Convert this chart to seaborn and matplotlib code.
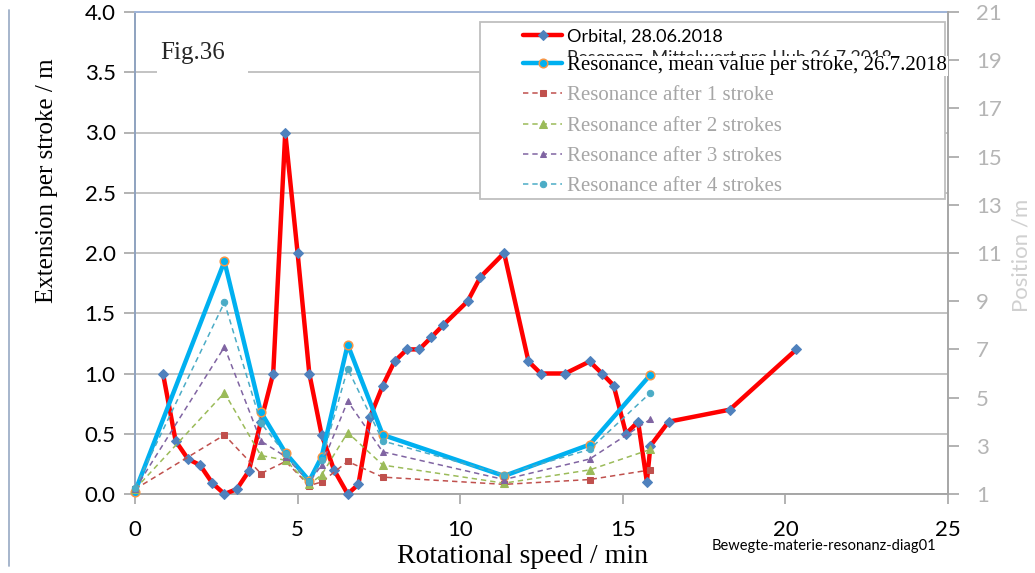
import numpy as np
import pandas as pd
import matplotlib
matplotlib.use("Agg")
import matplotlib.pyplot as plt
import seaborn as sns
from matplotlib.lines import Line2D
from matplotlib.patches import Rectangle

# ---------------- data ----------------
orbital_speed = [0.86, 1.25, 1.63, 2.0, 2.38, 2.75, 3.13, 3.5, 3.87, 4.25, 4.62, 5.0, 5.36,
                 5.74, 6.12, 6.54, 6.87, 7.23, 7.62, 7.98, 8.36, 8.74, 9.11, 9.47, 10.23,
                 10.62, 11.35, 12.1, 12.48, 13.23, 13.98, 14.36, 14.72, 15.1, 15.47, 15.74,
                 15.85, 16.41, 18.29, 20.34]
orbital_ext = [1.0, 0.44, 0.29, 0.24, 0.09, 0.0, 0.04, 0.19, 0.6, 1.0, 3.0, 2.0, 1.0,
               0.49, 0.2, 0.0, 0.08, 0.64, 0.9, 1.1, 1.2, 1.2, 1.3, 1.4, 1.6,
               1.8, 2.0, 1.1, 1.0, 1.0, 1.1, 1.0, 0.9, 0.5, 0.6, 0.1,
               0.4, 0.6, 0.7, 1.2]
res_speed = [0, 2.75, 3.87, 4.63, 5.36, 5.74, 6.54, 7.62, 11.35, 13.98, 15.85]
res_mean = [0.02, 1.93, 0.68, 0.34, 0.11, 0.31, 1.24, 0.49, 0.15, 0.41, 0.99]
res_1 = [0.04, 0.49, 0.17, 0.27, 0.07, 0.10, 0.27, 0.14, 0.08, 0.12, 0.20]
res_2 = [0.04, 0.84, 0.32, 0.28, 0.08, 0.16, 0.51, 0.24, 0.09, 0.20, 0.37]
res_3 = [0.04, 1.22, 0.44, 0.31, 0.10, 0.24, 0.77, 0.35, 0.12, 0.29, 0.62]
res_4 = [0.05, 1.59, 0.59, 0.33, 0.10, 0.28, 1.04, 0.44, 0.16, 0.37, 0.84]

labels = ["Orbital, 28.06.2018",
          "Resonance, mean value per stroke, 26.7.2018",
          "Resonance after 1 stroke",
          "Resonance after 2 strokes",
          "Resonance after 3 strokes",
          "Resonance after 4 strokes"]
x_ticks = [0, 5, 10, 15, 20, 25]
y_ticks = [0.0, 0.5, 1.0, 1.5, 2.0, 2.5, 3.0, 3.5, 4.0]
pos_ticks = [1, 3, 5, 7, 9, 11, 13, 15, 17, 19, 21]

# ---------------- style ----------------
sns.set_theme(style="white")
plt.rcParams['font.family'] = ['Lato', 'DejaVu Sans']
SERIF = ['Liberation Serif', 'DejaVu Serif']
GRAYTXT = '#a6a6a6'

W, H = 1035, 573
fig = plt.figure(figsize=(W / 100, H / 100), dpi=100)
fig.patch.set_facecolor('white')
ax = fig.add_axes([135 / W, 1 - 494 / H, (948 - 135) / W, (494 - 12) / H])
ax.set_facecolor('white')

# ---------------- series ----------------
sns.lineplot(x=orbital_speed, y=orbital_ext, ax=ax, sort=False, legend=False,
             color='#ff0000', linewidth=3.2, marker='D', markersize=5.0,
             markerfacecolor='#4f81bd', markeredgecolor='#4f81bd', zorder=3, clip_on=False)
sns.lineplot(x=res_speed, y=res_mean, ax=ax, sort=False, legend=False,
             color='#00b0f0', linewidth=3.2, marker='o', markersize=6.2,
             markerfacecolor='#00b0f0', markeredgecolor='#f79646', markeredgewidth=1.1,
             zorder=4, clip_on=False)
dashed = [(res_1, '#c0504d', 's', 4.6),
          (res_2, '#9bbb59', '^', 6.0),
          (res_3, '#8064a2', '^', 5.0),
          (res_4, '#4bacc6', 'o', 4.6)]
for vals, col, mk, ms in dashed:
    sns.lineplot(x=res_speed, y=vals, ax=ax, sort=False, legend=False,
                 color=col, linewidth=1.1, marker=mk, markersize=ms,
                 markerfacecolor=col, markeredgecolor=col, zorder=5, clip_on=False)
lines = list(ax.get_lines())
for ln in lines[2:]:
    ln.set_linestyle((0, (3.5, 2.6)))

# ---------------- axes ----------------
ax.set_xlim(0, 25)
ax.set_ylim(0, 4)
ax.set_xticks(x_ticks)
ax.set_xticklabels([str(v) for v in x_ticks])
ax.set_yticks(y_ticks)
ax.set_yticklabels([f"{v:.1f}" for v in y_ticks])
ax.set_axisbelow(True)
ax.yaxis.grid(True, color='#c3c3c3', linewidth=1.4)
ax.xaxis.grid(False)
ax.tick_params(axis='x', bottom=True, direction='out', length=7, width=1.2,
               color='#a6a6a6', pad=12, labelsize=16, labelcolor='black')
ax.tick_params(axis='y', left=True, direction='out', length=8, width=1.2,
               color='#a6a6a6', pad=6, labelsize=16, labelcolor='black')
for side, col in [('left', '#8ea2bf'), ('top', '#9fb4d8'), ('bottom', '#a6a6a6')]:
    ax.spines[side].set_color(col)
    ax.spines[side].set_linewidth(1.4)
ax.spines['right'].set_visible(False)

ax.set_xlabel("Rotational speed / min", family=SERIF, fontsize=20, color='black')
ax.xaxis.set_label_coords((523 - 135) / 813, (494 - 544) / 482)
ax.set_ylabel("Extension per stroke / m", family=SERIF, fontsize=18, color='black')
ax.yaxis.set_label_coords((58 - 135) / 813, (494 - 181) / 482)

ax2 = ax.twinx()
ax2.set_ylim(1, 21)
ax2.set_yticks(pos_ticks)
ax2.set_yticklabels([str(v) for v in pos_ticks])
ax2.grid(False)
ax2.tick_params(axis='y', right=True, direction='out', length=8, width=1.2,
                color='#a6a6a6', pad=12, labelsize=16, labelcolor='#b5b5b5')
for side in ['left', 'top', 'bottom']:
    ax2.spines[side].set_visible(False)
ax2.spines['right'].set_color('#a6a6a6')
ax2.spines['right'].set_linewidth(1.4)
ax2.set_ylabel("Position /m", fontsize=16, color='#d0d0d0')
ax2.yaxis.set_label_coords((1012 - 135) / 813, (494 - 255) / 482)

# ---------------- "Fig.36" box ----------------
ax.add_artist(Rectangle((157 / W, 1 - 82 / H), 91 / W, 54 / H, transform=fig.transFigure,
                        facecolor='white', edgecolor='none', zorder=2, clip_on=False))
ax.text(160 / W, 1 - 53 / H, "Fig.36", transform=fig.transFigure, family=SERIF,
        fontsize=18, va='center', ha='left', zorder=2.5)

# ---------------- legend ----------------
ax2.add_artist(Rectangle((480 / W, 1 - 199 / H), 465 / W, 177 / H, transform=fig.transFigure,
                         facecolor='white', edgecolor='#bfbfbf', linewidth=1.3,
                         zorder=4, clip_on=False))
# older (German) legend text partly hidden behind the English one, as in the source
ax2.text(567 / W, 1 - 58.5 / H, "Resonanz, Mittelwert pro Hub 26.7.2018",
         transform=fig.transFigure, fontsize=13, va='center', ha='left', zorder=4.5)
leg = ax2.legend(lines, labels, loc='upper left', bbox_to_anchor=(523 / W, 1 - 28 / H),
                 bbox_transform=fig.transFigure, frameon=False, borderpad=0,
                 borderaxespad=0, handlelength=1.95, handletextpad=0.25,
                 labelspacing=0.55, fontsize=14.5)
leg.set_zorder(5)
texts = leg.get_texts()
texts[0].set_color('black')
texts[0].set_fontsize(13)
texts[1].set_family(SERIF)
texts[1].set_fontsize(15)
texts[1].set_color('black')
texts[1].set_bbox(dict(facecolor='white', edgecolor='none', pad=0.3))
for t in texts[2:]:
    t.set_family(SERIF)
    t.set_fontsize(15)
    t.set_color(GRAYTXT)

# ---------------- misc ----------------
fig.text(824 / W, 1 - 546 / H, "Bewegte-materie-resonanz-diag01", fontsize=10.5,
         ha='center', va='center', color='black')
fig.add_artist(Line2D([8.5 / W, 8.5 / W], [1 - 10 / H, 1 - 566 / H],
                      transform=fig.transFigure, color='#9fb0c8', linewidth=1.3))

fig.savefig("out.png", dpi=100, facecolor='white')
